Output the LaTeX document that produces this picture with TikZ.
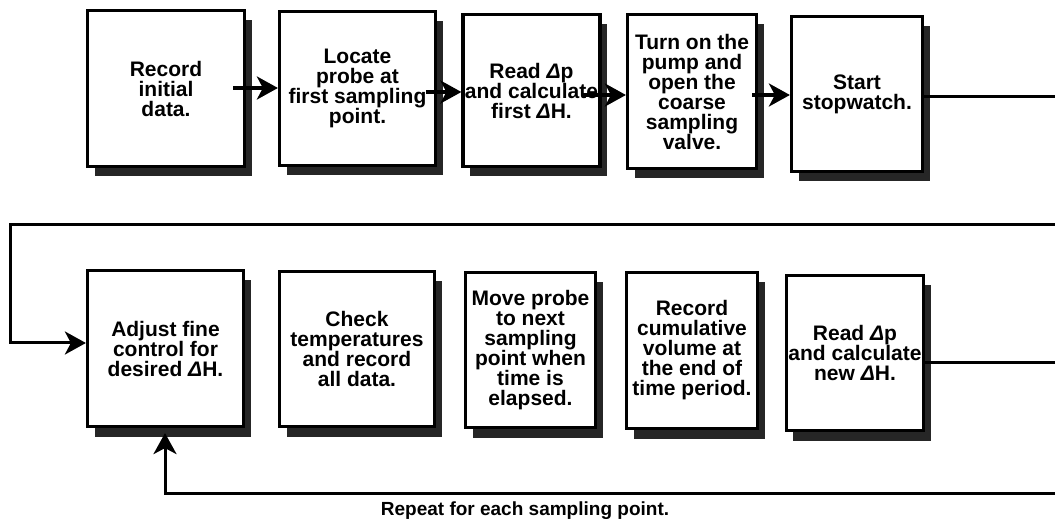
\documentclass[tikz,border=0pt]{standalone}
\usepackage{fontspec}
\setmainfont{Liberation Sans}
\usetikzlibrary{arrows.meta,shadows}
\newcommand\dlt{{\itshape Δ}}
\tikzset{
  stepbox/.style={draw, line width=3.2pt, fill=white, align=center, inner sep=2pt,
    font=\bfseries\fontsize{21}{20}\selectfont,
    general shadow={fill=black!85, shadow xshift=7pt, shadow yshift=-10pt}},
  flow/.style={line width=3.4pt, -{Stealth[length=21pt,width=23pt,inset=6pt]}},
  loopline/.style={line width=3pt},
  loopar/.style={line width=3pt, -{Stealth[length=21pt,width=23pt,inset=6pt]}},
  note/.style={font=\bfseries\fontsize{19}{19}\selectfont, inner sep=0pt}
}
\begin{document}
\begin{tikzpicture}[x=1pt,y=-1pt]
\useasboundingbox (0,0) rectangle (1055,526);
% row 1
\node[stepbox, minimum width=157, minimum height=156] (b1) at (166,88.5) {Record\\initial\\data.};
\node[stepbox, minimum width=156, minimum height=154] (b2) at (357.5,88.5) {Locate\\probe at\\first sampling\\point.};
\node[stepbox, minimum width=130, minimum height=152] (b3) at (531.5,90.5) {Read \dlt p\\and calculate\\first \dlt H.};
\node[stepbox, minimum width=129, minimum height=154] (b4) at (692,91.5) {Turn on the\\pump and\\open the\\coarse\\sampling\\valve.};
\node[stepbox, minimum width=131, minimum height=155] (b5) at (857,94) {Start\\stopwatch.};
% row 2
\node[stepbox, minimum width=156, minimum height=156] (b6) at (165.5,348.5) {Adjust fine\\control for\\desired \dlt H.};
\node[stepbox, minimum width=155, minimum height=155] (b7) at (357,349) {Check\\temperatures\\and record\\all data.};
\node[stepbox, minimum width=130, minimum height=155] (b8) at (530.5,350) {Move probe\\to next\\sampling\\point when\\time is\\elapsed.};
\node[stepbox, minimum width=131, minimum height=156] (b9) at (692,350.5) {Record\\cumulative\\volume at\\the end of\\time period.};
\node[stepbox, minimum width=131, minimum height=155] (b10) at (855,353) {Read \dlt p\\and calculate\\new \dlt H.};
% arrow starts and free ends
\coordinate (s1) at (233,88);
\coordinate (s2) at (426,92);
\coordinate (s3) at (583,95);
\coordinate (s4) at (752,95);
\coordinate (r1) at (1055,97);
\coordinate (r2) at (1055,225);
\coordinate (l2) at (10,225);
\coordinate (l3) at (10,343);
\coordinate (r3) at (1055,363);
\coordinate (r4) at (1055,493);
\coordinate (l4) at (165,493);
% row 1 arrows
\draw[flow] (s1) -- (s1 -| b2.west);
\draw[flow] (s2) -- (s2 -| b3.west);
\draw[flow] (s3) -- (s3 -| b4.west);
\draw[flow] (s4) -- (s4 -| b5.west);
\draw[loopline] (b5.east |- r1) -- (r1);
% loop back
\draw[loopar] (r2) -- (l2) -- (l3) -- (l3 -| b6.west);
\draw[loopline] (b10.east |- r3) -- (r3);
\draw[loopar] (r4) -- (l4) -- ([yshift=-5pt]l4 |- b6.south);
\node[note, anchor=north] (rep) at (525,502) {Repeat for each sampling point.};
\end{tikzpicture}
\end{document}
